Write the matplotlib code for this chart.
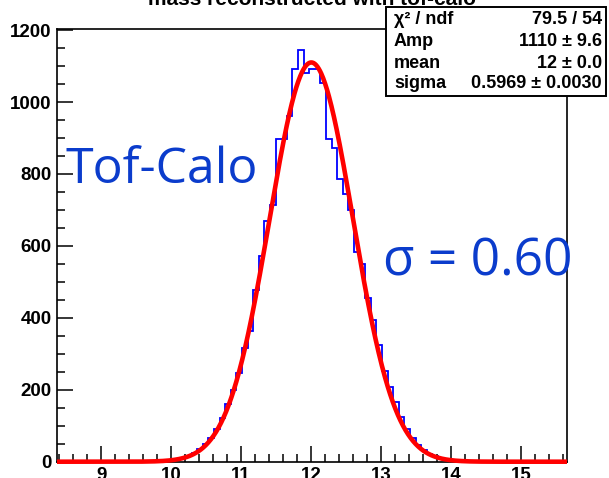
import numpy as np
import matplotlib
matplotlib.use("Agg")
import matplotlib.pyplot as plt
from matplotlib.patches import Rectangle
from matplotlib.ticker import MultipleLocator

# histogram: 91 bins of 0.08 from 8.37 to 15.65
x_lo, x_hi, n_bins = 8.37, 15.65, 91
counts = ([0] * 17 +
          [1, 1, 3, 4, 7, 11, 17, 24, 35, 48,
           66, 90, 121, 160, 200, 246, 317, 362, 478, 571,
           668, 714, 898, 898, 962, 1091, 1146, 1080, 1091, 1091,
           1054, 898, 873, 786, 744, 700, 582, 551, 455, 394,
           324, 251, 207, 167, 125, 92, 66, 46, 32, 22,
           15, 10, 6, 4, 2, 1, 1] +
          [0] * 17)

# gaussian fit parameters (from stats box)
fit_amp, fit_mean, fit_sigma = 1110.0, 12.0, 0.5969
stat_names = ["χ² / ndf", "Amp", "mean", "sigma"]
stat_values = ["79.5 / 54", "1110 ± 9.6", "12 ± 0.0", "0.5969 ± 0.0030"]

W, H = 609, 478
fig = plt.figure(figsize=(W / 100, H / 100), dpi=100)
ax = fig.add_axes([57 / W, (H - 461.7) / H, (567 - 57) / W, (461.7 - 29) / H])

edges = np.linspace(x_lo, x_hi, n_bins + 1)
ax.stairs(counts, edges, color="blue", lw=1.3, zorder=2)

xf = np.linspace(x_lo, x_hi, 800)
yf = fit_amp * np.exp(-0.5 * ((xf - fit_mean) / fit_sigma) ** 2)
ax.plot(xf, yf, color="red", lw=3.3, zorder=3, clip_on=False, solid_capstyle="butt")

ax.set_xlim(x_lo, x_hi)
ax.set_ylim(0, 1203)
ax.xaxis.set_major_locator(MultipleLocator(1))
ax.xaxis.set_minor_locator(MultipleLocator(0.2))
ax.yaxis.set_major_locator(MultipleLocator(200))
ax.yaxis.set_minor_locator(MultipleLocator(50))
ax.tick_params(which="both", direction="in", top=False, right=False, width=1.1)
ax.tick_params(which="major", length=11.5)
ax.tick_params(which="minor", length=6)
ax.tick_params(axis="x", pad=4)
ax.tick_params(axis="y", pad=4)
for lab in ax.get_xticklabels() + ax.get_yticklabels():
    lab.set_fontfamily("Liberation Sans")
    lab.set_fontweight("bold")
    lab.set_fontsize(13.5)
for s in ax.spines.values():
    s.set_linewidth(1.2)

# title, mostly cut off at the top
fig.text(0.512, 1 - 5 / H, "mass reconstructed with tof-calo", ha="center",
         va="baseline", fontsize=15, fontweight="bold", family="Liberation Sans")

# stats box
bx0, bx1, by0, by1 = 386, 606, 7, 96
fig.add_artist(Rectangle((bx0 / W, 1 - by1 / H), (bx1 - bx0) / W, (by1 - by0) / H,
                         transform=fig.transFigure, facecolor="white",
                         edgecolor="black", lw=1.4, zorder=10))
row_y = [20, 42, 63, 84]
for name, val, yy in zip(stat_names, stat_values, row_y):
    fig.text(394 / W, 1 - yy / H, name, ha="left", va="center", fontsize=13,
             fontweight="bold", family="Liberation Sans", zorder=11)
    fig.text(602 / W, 1 - yy / H, val, ha="right", va="center", fontsize=13,
             fontweight="bold", family="Liberation Sans", zorder=11)

# annotations
blue = "#0b3ccc"
fig.text(66 / W, 1 - 183 / H, "Tof-Calo", ha="left", va="baseline", fontsize=36,
         color=blue, family="Open Sans")
fig.text(383 / W, 1 - 275 / H, "σ = 0.60", ha="left", va="baseline", fontsize=37,
         color=blue, family="Open Sans")

fig.savefig("out.png", dpi=100)
